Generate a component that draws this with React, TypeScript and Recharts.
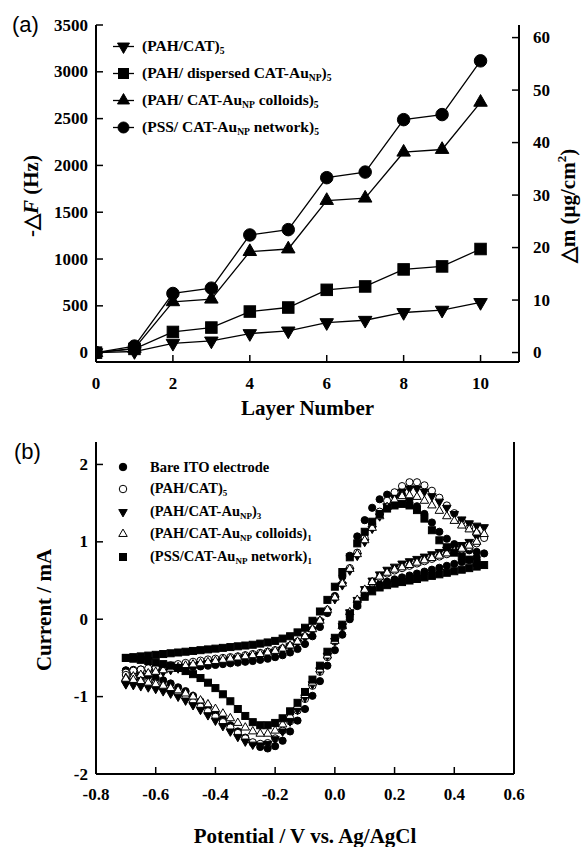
import React from 'react';
import { LineChart, Line, XAxis, YAxis, ScatterChart, Scatter, Legend } from 'recharts';

const SERIF = '"Liberation Serif", "Times New Roman", serif';
const SANS = '"Liberation Sans", Arial, sans-serif';

// ---------- Panel (a): QCM frequency shift vs layer number ----------
const layerNumbers = [0, 1, 2, 3, 4, 5, 6, 7, 8, 9, 10];
const pahCat = [0, 12, 100, 125, 204, 232, 321, 346, 429, 454, 536];
const pahDispersed = [0, 40, 221, 268, 439, 482, 671, 707, 889, 921, 1107];
const pahColloids = [0, 45, 543, 571, 1079, 1107, 1625, 1650, 2141, 2170, 2674];
const pssNetwork = [0, 70, 632, 689, 1257, 1314, 1869, 1929, 2489, 2543, 3117];
const layerTicks = [0, 2, 4, 6, 8, 10];
const freqTicks = [0, 500, 1000, 1500, 2000, 2500, 3000, 3500];
const massTicks = [0, 10, 20, 30, 40, 50, 60];

// ---------- Panel (b): cyclic voltammograms ----------
const potentialTicks = [-0.8, -0.6, -0.4, -0.2, 0, 0.2, 0.4, 0.6];
const currentTicks = [-2, -1, 0, 1, 2];
const sweepPotential = [
  -0.7, -0.675, -0.65, -0.625, -0.6, -0.575, -0.55, -0.525, -0.5, -0.475, -0.45, -0.425, -0.4, -0.375, -0.35, -0.325,
  -0.3, -0.275, -0.25, -0.225, -0.2, -0.175, -0.15, -0.125, -0.1, -0.075, -0.05, -0.025, 0, 0.025, 0.05, 0.075, 0.1,
  0.125, 0.15, 0.175, 0.2, 0.225, 0.25, 0.275, 0.3, 0.325, 0.35, 0.375, 0.4, 0.425, 0.45, 0.475, 0.5,
  0.475, 0.45, 0.425, 0.4, 0.375, 0.35, 0.325, 0.3, 0.275, 0.25, 0.225, 0.2, 0.175, 0.15, 0.125, 0.1, 0.075, 0.05,
  0.025, 0, -0.025, -0.05, -0.075, -0.1, -0.125, -0.15, -0.175, -0.2, -0.225, -0.25, -0.275, -0.3, -0.325, -0.35,
  -0.375, -0.4, -0.425, -0.45, -0.475, -0.5, -0.525, -0.55, -0.575, -0.6, -0.625, -0.65, -0.675, -0.7,
];
const bareIto = [
  -0.66, -0.655, -0.65, -0.645, -0.64, -0.635, -0.63, -0.625, -0.62, -0.615, -0.61, -0.6, -0.59, -0.58, -0.57, -0.56,
  -0.55, -0.54, -0.525, -0.51, -0.49, -0.465, -0.43, -0.385, -0.32, -0.22,
  -0.1, 0.08, 0.3, 0.55, 0.82, 1.07, 1.28, 1.44, 1.55, 1.61, 1.63, 1.61, 1.55, 1.46, 1.36, 1.25, 1.13, 1.04, 0.97,
  0.92, 0.89, 0.87, 0.85,
  0.8, 0.765, 0.74, 0.715, 0.69, 0.665, 0.64, 0.615, 0.59, 0.565, 0.54, 0.515, 0.485, 0.45, 0.4, 0.31, 0.17, 0,
  -0.2, -0.4, -0.6, -0.8, -0.99, -1.16, -1.31, -1.45, -1.57, -1.64, -1.67, -1.65, -1.6, -1.53, -1.45, -1.37, -1.29,
  -1.21, -1.13, -1.06, -0.99, -0.93, -0.88, -0.83, -0.79, -0.76, -0.73, -0.71, -0.685, -0.665,
];
const pahCat5 = [
  -0.69, -0.665, -0.65, -0.635, -0.625, -0.61, -0.595, -0.58, -0.565, -0.55, -0.535, -0.52, -0.51, -0.5, -0.49, -0.48,
  -0.465, -0.45, -0.435, -0.42, -0.4, -0.375, -0.34, -0.29, -0.22, -0.13, -0.02, 0.12, 0.28, 0.46, 0.66, 0.86, 1.05,
  1.23, 1.39, 1.53, 1.64, 1.72, 1.77, 1.77, 1.73, 1.66, 1.57, 1.47, 1.37, 1.27, 1.18, 1.11, 1.05,
  0.98, 0.93, 0.9, 0.87, 0.84, 0.81, 0.78, 0.75, 0.72, 0.69, 0.66, 0.63, 0.59, 0.54, 0.47, 0.37, 0.24, 0.08, -0.1,
  -0.29, -0.49, -0.68, -0.86, -1.03, -1.18, -1.32, -1.44, -1.54, -1.6, -1.61, -1.59, -1.54, -1.47, -1.4, -1.33, -1.26,
  -1.19, -1.13, -1.07, -1.01, -0.96, -0.91, -0.87, -0.83, -0.8, -0.77, -0.745, -0.72,
];
const pahAuNp3 = [
  -0.83, -0.8, -0.77, -0.74, -0.71, -0.68, -0.655, -0.635, -0.615, -0.595, -0.58, -0.565, -0.55, -0.535, -0.52, -0.505,
  -0.49, -0.475, -0.46, -0.44, -0.42, -0.39, -0.35, -0.3, -0.23, -0.14, -0.03, 0.1, 0.26, 0.44, 0.63, 0.82, 1.0,
  1.17, 1.33, 1.46, 1.57, 1.65, 1.69, 1.69, 1.65, 1.59, 1.52, 1.44, 1.36, 1.29, 1.24, 1.21, 1.19,
  1.07, 1.0, 0.96, 0.93, 0.9, 0.87, 0.84, 0.81, 0.78, 0.75, 0.72, 0.68, 0.64, 0.58, 0.5, 0.39, 0.25, 0.09, -0.09,
  -0.28, -0.47, -0.66, -0.84, -1.01, -1.17, -1.32, -1.45, -1.55, -1.61, -1.63, -1.62, -1.58, -1.52, -1.45, -1.38,
  -1.31, -1.24, -1.17, -1.11, -1.05, -1.0, -0.96, -0.93, -0.9, -0.88, -0.865, -0.85, -0.84,
];
const pahColloids1 = [
  -0.76, -0.74, -0.72, -0.7, -0.68, -0.66, -0.64, -0.62, -0.6, -0.585, -0.57, -0.555, -0.54, -0.525, -0.51, -0.495,
  -0.48, -0.465, -0.45, -0.43, -0.41, -0.38, -0.34, -0.29, -0.22, -0.13, -0.02, 0.12, 0.28, 0.46, 0.65, 0.84, 1.02,
  1.18, 1.33, 1.45, 1.54, 1.59, 1.6, 1.58, 1.53, 1.47, 1.4, 1.33, 1.27, 1.21, 1.16, 1.12, 1.1,
  1.0, 0.95, 0.91, 0.88, 0.85, 0.82, 0.79, 0.76, 0.73, 0.7, 0.67, 0.64, 0.6, 0.55, 0.48, 0.38, 0.25, 0.09, -0.09,
  -0.28, -0.47, -0.65, -0.82, -0.98, -1.12, -1.25, -1.36, -1.44, -1.48, -1.48, -1.45, -1.4, -1.34, -1.28, -1.22,
  -1.16, -1.1, -1.05, -1.0, -0.96, -0.92, -0.89, -0.86, -0.84, -0.82, -0.8, -0.785, -0.77,
];
const pssNetwork1 = [
  -0.5, -0.49, -0.48, -0.47, -0.46, -0.45, -0.44, -0.43, -0.42, -0.41, -0.4, -0.39, -0.38, -0.37, -0.36, -0.35,
  -0.34, -0.33, -0.315, -0.3, -0.28, -0.25, -0.22, -0.17, -0.11, -0.02, 0.1, 0.25, 0.42, 0.61, 0.8, 0.98, 1.13,
  1.26, 1.36, 1.43, 1.47, 1.49, 1.47, 1.41, 1.3, 1.15, 1.02, 0.93, 0.86, 0.81, 0.77, 0.73, 0.7,
  0.68, 0.66, 0.64, 0.62, 0.6, 0.58, 0.56, 0.54, 0.52, 0.5, 0.48, 0.46, 0.44, 0.41, 0.36, 0.29, 0.19, 0.07, -0.07,
  -0.24, -0.42, -0.6, -0.78, -0.94, -1.08, -1.19, -1.28, -1.34, -1.37, -1.37, -1.33, -1.25, -1.16, -1.06, -0.97,
  -0.89, -0.82, -0.76, -0.71, -0.67, -0.63, -0.6, -0.58, -0.56, -0.54, -0.525, -0.51, -0.5,
];

const dataA = layerNumbers.map((layer, k) => ({
  layer,
  pahCat: pahCat[k],
  pahDispersed: pahDispersed[k],
  pahColloids: pahColloids[k],
  pssNetwork: pssNetwork[k],
}));
const toSweep = (cur: number[]) => sweepPotential.map((v, k) => ({ v, i: cur[k] }));

type Kind = 'circle' | 'square' | 'triUp' | 'triDown';

function Marker({ kind, cx, cy, size, filled, sw = 1 }: { kind: Kind; cx?: number; cy?: number; size: number; filled: boolean; sw?: number }) {
  if (cx == null || cy == null || isNaN(cx) || isNaN(cy)) return null;
  const fill = filled ? '#000' : '#fff';
  const common = { fill, stroke: '#000', strokeWidth: sw };
  if (kind === 'circle') return <circle cx={cx} cy={cy} r={size / 2} {...common} />;
  if (kind === 'square') return <rect x={cx - size / 2} y={cy - size / 2} width={size} height={size} {...common} />;
  const h = size * 0.866;
  if (kind === 'triUp')
    return <polygon points={`${cx},${cy - (2 * h) / 3} ${cx - size / 2},${cy + h / 3} ${cx + size / 2},${cy + h / 3}`} {...common} />;
  return <polygon points={`${cx},${cy + (2 * h) / 3} ${cx - size / 2},${cy - h / 3} ${cx + size / 2},${cy - h / 3}`} {...common} />;
}

const Sub = ({ children, size = '0.62em' }: { children: React.ReactNode; size?: string }) => (
  <span style={{ fontSize: size, position: 'relative', top: '0.32em' }}>{children}</span>
);

const axisLineStyle = { stroke: '#000', strokeWidth: 2 };
const tickLineStyle = { stroke: '#000', strokeWidth: 1.5 };
const titleStyle: React.CSSProperties = { fill: '#000', fontSize: 21, fontWeight: 700, fontFamily: SERIF };

function AxisTick(props: any) {
  const { x, y, payload, anchor, decimals } = props;
  const v = payload ? payload.value : '';
  const label = typeof decimals === 'number' ? Number(v).toFixed(decimals) : String(v);
  return (
    <text x={x} y={y} textAnchor={anchor} dominantBaseline="central" style={{ fill: '#000', fontFamily: SERIF, fontWeight: 700, fontSize: 17 }}>
      {label}
    </text>
  );
}

const legendARows: { kind: Kind; label: React.ReactNode }[] = [
  { kind: 'triDown', label: <>(PAH/CAT)<Sub>5</Sub></> },
  { kind: 'square', label: <>(PAH/ dispersed CAT-Au<Sub>NP</Sub>)<Sub>5</Sub></> },
  { kind: 'triUp', label: <>(PAH/ CAT-Au<Sub>NP</Sub> colloids)<Sub>5</Sub></> },
  { kind: 'circle', label: <>(PSS/ CAT-Au<Sub>NP</Sub> network)<Sub>5</Sub></> },
];

const legendBRows: { kind: Kind; filled: boolean; label: React.ReactNode }[] = [
  { kind: 'circle', filled: true, label: <>Bare ITO electrode</> },
  { kind: 'circle', filled: false, label: <>(PAH/CAT)<Sub>5</Sub></> },
  { kind: 'triDown', filled: true, label: <>(PAH/CAT-Au<Sub>NP</Sub>)<Sub>3</Sub></> },
  { kind: 'triUp', filled: false, label: <>(PAH/CAT-Au<Sub>NP</Sub> colloids)<Sub>1</Sub></> },
  { kind: 'square', filled: true, label: <>(PSS/CAT-Au<Sub>NP</Sub> network)<Sub>1</Sub></> },
];

const LegendA = () => (
  <div>
    {legendARows.map((r, k) => (
      <div key={k} style={{ display: 'flex', alignItems: 'center', height: 27 }}>
        <svg width={29} height={27} style={{ display: 'block' }}>
          <line x1={0} y1={13.5} x2={21} y2={13.5} stroke="#000" strokeWidth={1.3} />
          <Marker kind={r.kind} cx={10.5} cy={13.5} size={r.kind === 'square' ? 10 : r.kind === 'circle' ? 11 : 12} filled />
        </svg>
        <span style={{ fontFamily: SERIF, fontWeight: 700, fontSize: 15.5, lineHeight: '27px', whiteSpace: 'nowrap', color: '#000' }}>{r.label}</span>
      </div>
    ))}
  </div>
);

const LegendB = () => (
  <div>
    {legendBRows.map((r, k) => (
      <div key={k} style={{ display: 'flex', alignItems: 'center', height: 22.5 }}>
        <svg width={34} height={22} style={{ display: 'block' }}>
          <Marker kind={r.kind} cx={7} cy={11} size={r.kind === 'square' ? 7 : r.kind === 'circle' ? 7.5 : 8.5} filled={r.filled} />
        </svg>
        <span style={{ fontFamily: SERIF, fontWeight: 700, fontSize: 14.5, lineHeight: '22px', whiteSpace: 'nowrap', color: '#000' }}>{r.label}</span>
      </div>
    ))}
  </div>
);

const FreqTitle = () => (
  <text x={31} y={196} transform="rotate(-90 31 196)" textAnchor="middle" dominantBaseline="central" style={titleStyle}>
    -△<tspan fontStyle="italic">F</tspan> (Hz)
  </text>
);
const MassTitle = () => (
  <text x={568} y={206} transform="rotate(-90 568 206)" textAnchor="middle" dominantBaseline="central" style={titleStyle}>
    △m (μg/cm<tspan dy={-7} fontSize={13}>2</tspan><tspan dy={7}>)</tspan>
  </text>
);
const LayerTitle = () => (
  <text x={307.5} y={408} textAnchor="middle" dominantBaseline="central" style={titleStyle}>
    Layer Number
  </text>
);
const CurrentTitle = () => (
  <text x={44} y={190} transform="rotate(-90 44 190)" textAnchor="middle" dominantBaseline="central" style={titleStyle}>
    Current / mA
  </text>
);
const PotentialTitle = () => (
  <text x={305} y={416} textAnchor="middle" dominantBaseline="central" style={titleStyle}>
    Potential / V vs. Ag/AgCl
  </text>
);

const lineSeries: { key: string; kind: Kind; size: number }[] = [
  { key: 'pahCat', kind: 'triDown', size: 13.5 },
  { key: 'pahDispersed', kind: 'square', size: 11.5 },
  { key: 'pahColloids', kind: 'triUp', size: 13.5 },
  { key: 'pssNetwork', kind: 'circle', size: 12.5 },
];

const scatterSeries: { name: string; values: number[]; kind: Kind; filled: boolean; size: number }[] = [
  { name: 'Bare ITO electrode', values: bareIto, kind: 'circle', filled: true, size: 7.2 },
  { name: '(PAH/CAT)5', values: pahCat5, kind: 'circle', filled: false, size: 7.2 },
  { name: '(PAH/CAT-AuNP)3', values: pahAuNp3, kind: 'triDown', filled: true, size: 8.5 },
  { name: '(PAH/CAT-AuNP colloids)1', values: pahColloids1, kind: 'triUp', filled: false, size: 8.5 },
  { name: '(PSS/CAT-AuNP network)1', values: pssNetwork1, kind: 'square', filled: true, size: 7 },
];

function PanelA() {
  return (
    <LineChart width={583} height={420} data={dataA} margin={{ top: 25, right: 0, bottom: 0, left: 0 }}>
      <XAxis
        dataKey="layer"
        type="number"
        domain={[0, 11]}
        allowDataOverflow
        ticks={layerTicks}
        interval={0}
        height={58}
        tickSize={-7}
        tickMargin={28}
        axisLine={axisLineStyle}
        tickLine={tickLineStyle}
        tick={(p: any) => <AxisTick {...p} anchor="middle" />}
        label={<LayerTitle />}
      />
      <XAxis xAxisId="top" orientation="top" dataKey="layer" type="number" domain={[0, 11]} allowDataOverflow height={0} tick={false} tickLine={false} axisLine={axisLineStyle} />
      <YAxis
        yAxisId="left"
        type="number"
        domain={[-100, 3500]}
        allowDataOverflow
        ticks={freqTicks}
        interval={0}
        width={96}
        tickSize={-7}
        tickMargin={15}
        axisLine={axisLineStyle}
        tickLine={tickLineStyle}
        tick={(p: any) => <AxisTick {...p} anchor="end" />}
        label={<FreqTitle />}
      />
      <YAxis
        yAxisId="right"
        orientation="right"
        type="number"
        domain={[-1.8, 62.4]}
        allowDataOverflow
        ticks={massTicks}
        interval={0}
        width={64}
        tickSize={-7}
        tickMargin={21}
        axisLine={axisLineStyle}
        tickLine={tickLineStyle}
        tick={(p: any) => <AxisTick {...p} anchor="start" />}
        label={<MassTitle />}
      />
      {lineSeries.map((s) => (
        <Line
          key={s.key}
          yAxisId="left"
          type="linear"
          dataKey={s.key}
          stroke="#000"
          strokeWidth={1.3}
          isAnimationActive={false}
          dot={(p: any) => <Marker key={`${s.key}-${p.index}`} kind={s.kind} cx={p.cx} cy={p.cy} size={s.size} filled />}
          activeDot={false}
        />
      ))}
      <Legend layout="vertical" verticalAlign="middle" align="center" wrapperStyle={{ left: 113, top: 32.5, width: 'auto', height: 'auto' }} content={() => <LegendA />} />
    </LineChart>
  );
}

function PanelB() {
  return (
    <ScatterChart width={583} height={427} margin={{ top: 22, right: 0, bottom: 0, left: 0 }}>
      <XAxis
        dataKey="v"
        type="number"
        domain={[-0.8, 0.6]}
        allowDataOverflow
        ticks={potentialTicks}
        interval={0}
        height={73}
        tickSize={-7}
        tickMargin={27}
        axisLine={axisLineStyle}
        tickLine={tickLineStyle}
        tick={(p: any) => <AxisTick {...p} anchor="middle" decimals={1} />}
        label={<PotentialTitle />}
      />
      <XAxis xAxisId="top" orientation="top" dataKey="v" type="number" domain={[-0.8, 0.6]} allowDataOverflow height={0} tick={false} tickLine={false} axisLine={axisLineStyle} />
      <YAxis
        dataKey="i"
        type="number"
        domain={[-2, 2.29]}
        allowDataOverflow
        ticks={currentTicks}
        interval={0}
        width={96}
        tickSize={-7}
        tickMargin={15}
        axisLine={axisLineStyle}
        tickLine={tickLineStyle}
        tick={(p: any) => <AxisTick {...p} anchor="end" />}
        label={<CurrentTitle />}
      />
      <YAxis yAxisId="right" orientation="right" dataKey="i" type="number" domain={[-2, 2.29]} allowDataOverflow width={69} tick={false} tickLine={false} axisLine={axisLineStyle} />
      {scatterSeries.map((s) => (
        <Scatter
          key={s.name}
          name={s.name}
          data={toSweep(s.values)}
          isAnimationActive={false}
          shape={(p: any) => <Marker kind={s.kind} cx={p.cx} cy={p.cy} size={s.size} filled={s.filled} />}
        />
      ))}
      <Legend layout="vertical" verticalAlign="middle" align="center" wrapperStyle={{ left: 116, top: 35.5, width: 'auto', height: 'auto' }} content={() => <LegendB />} />
    </ScatterChart>
  );
}

export default function App() {
  return (
    <div style={{ position: 'absolute', left: 0, top: 0, width: 583, height: 847, background: '#fff', overflow: 'hidden' }}>
      <div style={{ position: 'absolute', left: 0, top: 0 }}>
        <PanelA />
      </div>
      <div style={{ position: 'absolute', left: 0, top: 420 }}>
        <PanelB />
      </div>
      <div style={{ position: 'absolute', left: 12, top: 13, fontFamily: SANS, fontSize: 22, lineHeight: '24px', color: '#000' }}>(a)</div>
      <div style={{ position: 'absolute', left: 14, top: 440, fontFamily: SANS, fontSize: 22, lineHeight: '24px', color: '#000' }}>(b)</div>
    </div>
  );
}
